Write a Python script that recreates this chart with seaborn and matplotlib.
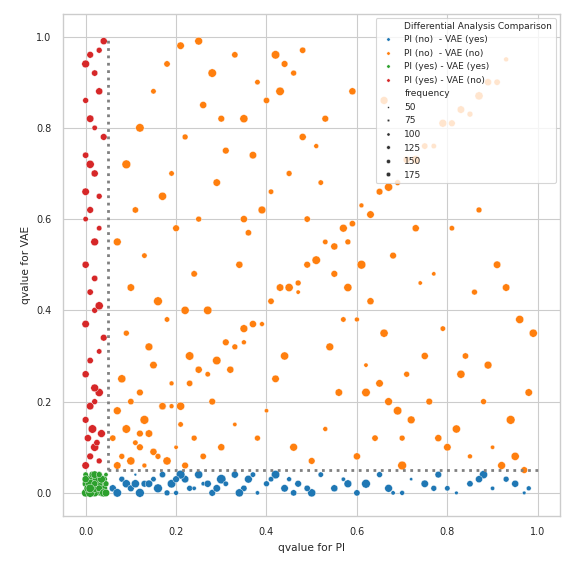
import numpy as np
import pandas as pd
import seaborn as sns
import matplotlib.pyplot as plt

# PI (no) - VAE (yes)
blue_x = [0.06,0.08,0.09,0.11,0.12,0.13,0.15,0.16,0.17,0.19,0.2,0.22,0.23,0.25,0.26,0.28,0.3,0.31,0.33,0.35,0.36,0.38,0.4,0.42,0.44,0.45,0.47,0.5,0.52,0.55,0.57,0.6,0.62,0.65,0.67,0.7,0.72,0.75,0.78,0.8,0.82,0.85,0.88,0.9,0.93,0.95,0.98,0.07,0.1,0.14,0.18,0.21,0.24,0.27,0.34,0.41,0.49,0.58,0.68,0.77,0.87,0.97,0.11,0.16,0.2,0.29,0.37,0.46]
blue_y = [0.01,0.03,0.02,0.04,0.0,0.02,0.03,0.01,0.04,0.02,0.0,0.03,0.01,0.04,0.02,0.0,0.03,0.02,0.04,0.01,0.03,0.0,0.02,0.04,0.01,0.03,0.02,0.0,0.04,0.01,0.03,0.0,0.02,0.04,0.01,0.0,0.03,0.02,0.04,0.01,0.0,0.02,0.04,0.01,0.03,0.02,0.01,0.0,0.01,0.02,0.0,0.04,0.01,0.02,0.0,0.03,0.01,0.02,0.0,0.01,0.03,0.0,0.02,0.01,0.03,0.01,0.04,0.0]
blue_f = [120,90,150,40,170,110,80,140,100,160,70,130,90,150,60,110,190,80,120,100,140,60,90,160,130,70,110,150,80,120,60,100,170,90,140,70,45,130,110,80,50,100,150,60,90,120,70,160,110,130,90,170,60,120,150,80,100,140,60,90,120,50,150,170,110,130,80,100]

# PI (no) - VAE (no)
diag = [0.12,0.14,0.17,0.19,0.21,0.23,0.25,0.27,0.29,0.31,0.33,0.35,0.37,0.39,0.41,0.43,0.45,0.47,0.49,0.51,0.53,0.55,0.57,0.59,0.61,0.63,0.65,0.67,0.69,0.71,0.73,0.75,0.77,0.79,0.81,0.83,0.85,0.87,0.89,0.91,0.93]
diag_off = [0.01,-0.01,0.02,0.0,-0.02,0.01,0.02,-0.01,0.0,0.02,-0.01,0.01,0.0,-0.02,0.01,0.02,0.0,-0.01,0.01,0.0,0.02,-0.01,0.01,0.0,0.02,-0.02,0.01,0.0,-0.01,0.02,0.0,0.01,-0.01,0.02,0.0,0.01,-0.02,0.0,0.01,-0.01,0.02]
orange_x = diag + [0.07,0.08,0.1,0.12,0.13,0.15,0.06,0.09,0.11,0.14,0.16,0.18,0.2,0.22,0.07,0.1,0.13,0.17,0.21,0.24,0.08,0.12,0.15,0.19,0.23,0.26,0.3,0.09,0.14,0.18,0.22,0.28,0.33,0.1,0.16,0.24,0.32,0.38,0.07,0.13,0.2,0.27,0.35,0.42,0.11,0.17,0.25,0.34,0.4,0.46,0.5,0.09,0.19,0.29,0.36,0.44,0.53,0.6,0.12,0.22,0.31,0.39,0.47,0.56,0.64,0.7,0.15,0.26,0.35,0.45,0.55,0.62,0.72,0.8,0.18,0.28,0.38,0.48,0.58,0.66,0.76,0.85,0.92,0.21,0.33,0.43,0.52,0.63,0.71,0.82,0.9,0.97,0.25,0.37,0.49,0.6,0.69,0.78,0.88,0.95,0.3,0.41,0.54,0.65,0.74,0.84,0.94,0.35,0.46,0.58,0.68,0.79,0.89,0.98,0.4,0.51,0.62,0.73,0.86,0.96,0.44,0.57,0.67,0.77,0.91,0.48,0.61,0.75,0.87,0.99,0.53,0.66,0.81,0.93,0.24,0.42,0.59,0.7,0.83,0.97,0.27,0.45,0.64,0.8,0.95,0.32,0.52,0.72,0.9,0.36,0.56,0.76,0.98,0.3,0.47,0.63,0.85,0.39,0.6,0.81,0.99,0.43,0.69,0.92,0.5,0.74,0.96]
orange_y = [d + e for d, e in zip(diag, diag_off)] + [0.06,0.08,0.07,0.1,0.06,0.09,0.12,0.14,0.11,0.13,0.08,0.07,0.1,0.06,0.18,0.2,0.16,0.19,0.15,0.12,0.25,0.22,0.28,0.24,0.3,0.08,0.1,0.35,0.32,0.38,0.4,0.2,0.15,0.45,0.42,0.48,0.27,0.12,0.55,0.52,0.58,0.4,0.33,0.25,0.62,0.65,0.6,0.5,0.18,0.1,0.07,0.72,0.7,0.68,0.57,0.3,0.14,0.08,0.8,0.78,0.75,0.62,0.44,0.22,0.12,0.06,0.88,0.85,0.82,0.7,0.48,0.28,0.16,0.1,0.94,0.92,0.9,0.78,0.55,0.35,0.2,0.08,0.06,0.98,0.96,0.88,0.68,0.42,0.26,0.14,0.1,0.05,0.99,0.74,0.6,0.38,0.18,0.12,0.2,0.08,0.82,0.66,0.32,0.24,0.46,0.3,0.16,0.6,0.92,0.45,0.52,0.36,0.28,0.22,0.86,0.76,0.22,0.58,0.44,0.38,0.94,0.38,0.2,0.48,0.5,0.97,0.5,0.3,0.62,0.35,0.82,0.86,0.58,0.45,0.48,0.96,0.88,0.12,0.26,0.66,0.77,0.3,0.78,0.99,0.4,0.16,0.55,0.9,0.42,0.64,0.62,0.93,0.34,0.7,0.75,0.9,0.55,0.82,0.92,0.52,0.68,0.72,0.99,0.87,0.95,0.85,0.8]
orange_f = [110,90,130,70,150,100,120,80,160,110,90,140,120,70,100,130,150,90,110,160,80,120,140,100,70,130,110,150,90,120,160,100,80,140,110,130,90,150,120,100,70,
  130,90,150,110,70,120,100,160,80,130,90,150,60,110,140,100,170,120,80,90,150,110,130,70,160,100,120,90,140,80,150,110,60,130,170,100,120,90,140,80,110,160,70,130,100,150,90,120,60,140,110,170,80,130,100,150,70,120,160,90,110,140,60,130,100,170,80,120,150,90,110,60,140,130,100,160,80,120,90,150,110,70,140,130,100,160,80,120,90,150,60,110,140,130,100,70,160,120,90,150,110,80,140,130,60,100,170,120,90,150,110,80,140,130,100,70,160,120,90,150,110,80,140,60,130,100,170,120,90,150,110,140,80,130,100,160,120,90,150]

# PI (yes) - VAE (yes)
green_x = [0.0,0.01,0.02,0.03,0.04,0.0,0.01,0.02,0.03,0.04,0.0,0.01,0.02,0.03,0.045,0.005,0.015,0.025,0.035,0.045,0.01,0.02,0.03,0.04,0.0,0.02,0.035,0.01,0.03,0.045]
green_y = [0.0,0.01,0.02,0.0,0.01,0.02,0.03,0.0,0.04,0.03,0.04,0.0,0.01,0.02,0.04,0.01,0.04,0.03,0.0,0.02,0.02,0.04,0.01,0.0,0.03,0.02,0.03,0.01,0.04,0.0]
green_f = [150,120,170,90,130,110,160,140,100,120,80,170,150,130,60,140,110,160,120,90,170,130,110,150,120,100,140,160,90,130]

# PI (yes) - VAE (no)
red_x = [0.0,0.01,0.02,0.03,0.005,0.015,0.025,0.035,0.0,0.01,0.02,0.03,0.0,0.01,0.02,0.03,0.04,0.0,0.02,0.03,0.01,0.0,0.02,0.03,0.01,0.0,0.03,0.02,0.01,0.0,0.04,0.02,0.01,0.0,0.03,0.02,0.0,0.01,0.03,0.04,0.0,0.02]
red_y = [0.06,0.08,0.1,0.07,0.12,0.14,0.11,0.13,0.16,0.19,0.2,0.22,0.26,0.29,0.23,0.31,0.34,0.37,0.4,0.41,0.44,0.5,0.55,0.58,0.62,0.66,0.65,0.7,0.72,0.74,0.78,0.8,0.82,0.86,0.88,0.92,0.94,0.96,0.97,0.99,0.6,0.47]
red_f = [130,110,150,90,120,160,100,140,110,130,90,150,120,100,140,80,110,130,90,150,100,120,140,80,110,130,90,120,150,100,110,80,130,90,120,100,140,110,90,120,80,100]

labels = ["PI (no)  - VAE (yes)", "PI (no)  - VAE (no)", "PI (yes) - VAE (yes)", "PI (yes) - VAE (no)"]
rows = []
for lab, xs, ys, fs in zip(labels, [blue_x, orange_x, green_x, red_x], [blue_y, orange_y, green_y, red_y], [blue_f, orange_f, green_f, red_f]):
    n = min(len(xs), len(ys), len(fs))
    for i in range(n):
        rows.append((xs[i], ys[i], fs[i], lab))
df = pd.DataFrame(rows, columns=["qvalue for PI", "qvalue for VAE", "frequency", "Differential Analysis Comparison"])

sns.set_theme(style="whitegrid", context="paper", font_scale=0.8)
fig, ax = plt.subplots(figsize=(5.73, 5.73), dpi=100)
sns.scatterplot(data=df, x="qvalue for PI", y="qvalue for VAE", hue="Differential Analysis Comparison",
                size="frequency", sizes=(4, 45), hue_order=labels, palette="tab10", ax=ax)
ax.plot([0.05, 0.05], [0.05, 1.0], ls=":", color="grey", lw=2)
ax.plot([0.05, 1.0], [0.05, 0.05], ls=":", color="grey", lw=2)
ax.set_xlim(-0.05, 1.05)
ax.set_ylim(-0.05, 1.05)
leg = ax.legend(loc="upper right", fontsize=6.5, markerscale=0.5)
fig.subplots_adjust(left=0.11, right=0.978, top=0.976, bottom=0.1)
fig.savefig("out.png")
